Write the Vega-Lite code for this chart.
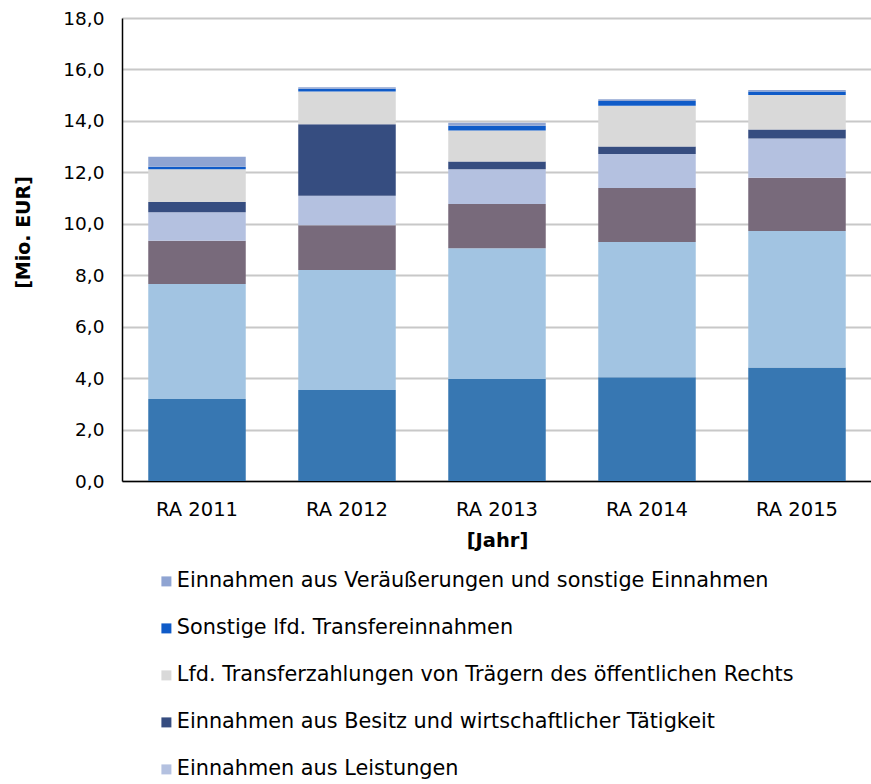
{
  "$schema": "https://vega.github.io/schema/vega-lite/v6.json",
  "width": 750,
  "height": 463,
  "autosize": {"type": "none"},
  "padding": {"left": 122, "top": 18, "right": 0, "bottom": 303},
  "background": "white",
  "data": {
    "values": [
      {"jahr": "RA 2011", "kat": "Einnahmen aus eigenen Steuern", "wert": 3.19},
      {"jahr": "RA 2011", "kat": "Ertragsanteile an gemeinschaftlichen Bundesabgaben", "wert": 4.47},
      {"jahr": "RA 2011", "kat": "Gebühren für die Benutzung von Gemeindeeinrichtungen", "wert": 1.68},
      {"jahr": "RA 2011", "kat": "Einnahmen aus Leistungen", "wert": 1.11},
      {"jahr": "RA 2011", "kat": "Einnahmen aus Besitz und wirtschaftlicher Tätigkeit", "wert": 0.40},
      {"jahr": "RA 2011", "kat": "Lfd. Transferzahlungen von Trägern des öffentlichen Rechts", "wert": 1.27},
      {"jahr": "RA 2011", "kat": "Sonstige lfd. Transfereinnahmen", "wert": 0.10},
      {"jahr": "RA 2011", "kat": "Einnahmen aus Veräußerungen und sonstige Einnahmen", "wert": 0.39},
      {"jahr": "RA 2012", "kat": "Einnahmen aus eigenen Steuern", "wert": 3.54},
      {"jahr": "RA 2012", "kat": "Ertragsanteile an gemeinschaftlichen Bundesabgaben", "wert": 4.66},
      {"jahr": "RA 2012", "kat": "Gebühren für die Benutzung von Gemeindeeinrichtungen", "wert": 1.74},
      {"jahr": "RA 2012", "kat": "Einnahmen aus Leistungen", "wert": 1.15},
      {"jahr": "RA 2012", "kat": "Einnahmen aus Besitz und wirtschaftlicher Tätigkeit", "wert": 2.78},
      {"jahr": "RA 2012", "kat": "Lfd. Transferzahlungen von Trägern des öffentlichen Rechts", "wert": 1.27},
      {"jahr": "RA 2012", "kat": "Sonstige lfd. Transfereinnahmen", "wert": 0.11},
      {"jahr": "RA 2012", "kat": "Einnahmen aus Veräußerungen und sonstige Einnahmen", "wert": 0.06},
      {"jahr": "RA 2013", "kat": "Einnahmen aus eigenen Steuern", "wert": 3.97},
      {"jahr": "RA 2013", "kat": "Ertragsanteile an gemeinschaftlichen Bundesabgaben", "wert": 5.08},
      {"jahr": "RA 2013", "kat": "Gebühren für die Benutzung von Gemeindeeinrichtungen", "wert": 1.72},
      {"jahr": "RA 2013", "kat": "Einnahmen aus Leistungen", "wert": 1.35},
      {"jahr": "RA 2013", "kat": "Einnahmen aus Besitz und wirtschaftlicher Tätigkeit", "wert": 0.30},
      {"jahr": "RA 2013", "kat": "Lfd. Transferzahlungen von Trägern des öffentlichen Rechts", "wert": 1.21},
      {"jahr": "RA 2013", "kat": "Sonstige lfd. Transfereinnahmen", "wert": 0.18},
      {"jahr": "RA 2013", "kat": "Einnahmen aus Veräußerungen und sonstige Einnahmen", "wert": 0.12},
      {"jahr": "RA 2014", "kat": "Einnahmen aus eigenen Steuern", "wert": 4.03},
      {"jahr": "RA 2014", "kat": "Ertragsanteile an gemeinschaftlichen Bundesabgaben", "wert": 5.26},
      {"jahr": "RA 2014", "kat": "Gebühren für die Benutzung von Gemeindeeinrichtungen", "wert": 2.10},
      {"jahr": "RA 2014", "kat": "Einnahmen aus Leistungen", "wert": 1.32},
      {"jahr": "RA 2014", "kat": "Einnahmen aus Besitz und wirtschaftlicher Tätigkeit", "wert": 0.29},
      {"jahr": "RA 2014", "kat": "Lfd. Transferzahlungen von Trägern des öffentlichen Rechts", "wert": 1.59},
      {"jahr": "RA 2014", "kat": "Sonstige lfd. Transfereinnahmen", "wert": 0.18},
      {"jahr": "RA 2014", "kat": "Einnahmen aus Veräußerungen und sonstige Einnahmen", "wert": 0.07},
      {"jahr": "RA 2015", "kat": "Einnahmen aus eigenen Steuern", "wert": 4.41},
      {"jahr": "RA 2015", "kat": "Ertragsanteile an gemeinschaftlichen Bundesabgaben", "wert": 5.31},
      {"jahr": "RA 2015", "kat": "Gebühren für die Benutzung von Gemeindeeinrichtungen", "wert": 2.07},
      {"jahr": "RA 2015", "kat": "Einnahmen aus Leistungen", "wert": 1.53},
      {"jahr": "RA 2015", "kat": "Einnahmen aus Besitz und wirtschaftlicher Tätigkeit", "wert": 0.35},
      {"jahr": "RA 2015", "kat": "Lfd. Transferzahlungen von Trägern des öffentlichen Rechts", "wert": 1.34},
      {"jahr": "RA 2015", "kat": "Sonstige lfd. Transfereinnahmen", "wert": 0.13},
      {"jahr": "RA 2015", "kat": "Einnahmen aus Veräußerungen und sonstige Einnahmen", "wert": 0.06}
    ]
  },
  "transform": [
    {
      "calculate": "indexof(['Einnahmen aus eigenen Steuern', 'Ertragsanteile an gemeinschaftlichen Bundesabgaben', 'Gebühren für die Benutzung von Gemeindeeinrichtungen', 'Einnahmen aus Leistungen', 'Einnahmen aus Besitz und wirtschaftlicher Tätigkeit', 'Lfd. Transferzahlungen von Trägern des öffentlichen Rechts', 'Sonstige lfd. Transfereinnahmen', 'Einnahmen aus Veräußerungen und sonstige Einnahmen'], datum.kat)",
      "as": "stapelrang"
    }
  ],
  "mark": {"type": "bar"},
  "encoding": {
    "x": {
      "field": "jahr",
      "type": "nominal",
      "scale": {"paddingInner": 0.35, "paddingOuter": 0.175},
      "axis": {
        "title": "[Jahr]",
        "labelAngle": 0,
        "labelFont": "DejaVu Sans",
        "labelFontSize": 19.5,
        "labelColor": "#000000",
        "labelPadding": 19,
        "ticks": false,
        "domainColor": "#000000",
        "domainWidth": 1.5,
        "titleFont": "DejaVu Sans",
        "titleFontSize": 19.5,
        "titleFontWeight": "bold",
        "titleColor": "#000000",
        "titlePadding": 13
      }
    },
    "y": {
      "field": "wert",
      "type": "quantitative",
      "stack": "zero",
      "scale": {"domain": [0, 18], "nice": false},
      "axis": {
        "title": "[Mio. EUR]",
        "values": [0, 2, 4, 6, 8, 10, 12, 14, 16, 18],
        "format": ".1f",
        "labelExpr": "replace(datum.label, '.', ',')",
        "labelFont": "DejaVu Sans",
        "labelFontSize": 18.5,
        "labelColor": "#000000",
        "labelPadding": 18,
        "ticks": false,
        "domainColor": "#000000",
        "domainWidth": 1.5,
        "gridColor": "#C8C8C8",
        "gridWidth": 2,
        "titleFont": "DejaVu Sans",
        "titleFontSize": 19,
        "titleFontWeight": "bold",
        "titleColor": "#000000",
        "titlePadding": 29,
        "titleY": 214
      }
    },
    "order": {"field": "stapelrang", "type": "quantitative", "sort": "ascending"},
    "color": {
      "field": "kat",
      "type": "nominal",
      "scale": {
        "domain": [
          "Einnahmen aus eigenen Steuern",
          "Ertragsanteile an gemeinschaftlichen Bundesabgaben",
          "Gebühren für die Benutzung von Gemeindeeinrichtungen",
          "Einnahmen aus Leistungen",
          "Einnahmen aus Besitz und wirtschaftlicher Tätigkeit",
          "Lfd. Transferzahlungen von Trägern des öffentlichen Rechts",
          "Sonstige lfd. Transfereinnahmen",
          "Einnahmen aus Veräußerungen und sonstige Einnahmen"
        ],
        "range": ["#3777B2", "#A2C4E2", "#786A7B", "#B4C1E0", "#364D80", "#D9D9D9", "#0F5BC8", "#8FA4D2"]
      },
      "legend": {
        "title": null,
        "orient": "none",
        "legendX": 34,
        "legendY": 553,
        "direction": "vertical",
        "values": [
          "Einnahmen aus Veräußerungen und sonstige Einnahmen",
          "Sonstige lfd. Transfereinnahmen",
          "Lfd. Transferzahlungen von Trägern des öffentlichen Rechts",
          "Einnahmen aus Besitz und wirtschaftlicher Tätigkeit",
          "Einnahmen aus Leistungen"
        ],
        "symbolType": "square",
        "symbolSize": 100,
        "symbolStrokeWidth": 0,
        "labelFont": "DejaVu Sans",
        "labelFontSize": 20.8,
        "labelColor": "#000000",
        "labelLimit": 800,
        "labelOffset": 0,
        "rowPadding": 25
      }
    }
  },
  "config": {
    "view": {"stroke": null},
    "axis": {"gridDash": []}
  }
}
